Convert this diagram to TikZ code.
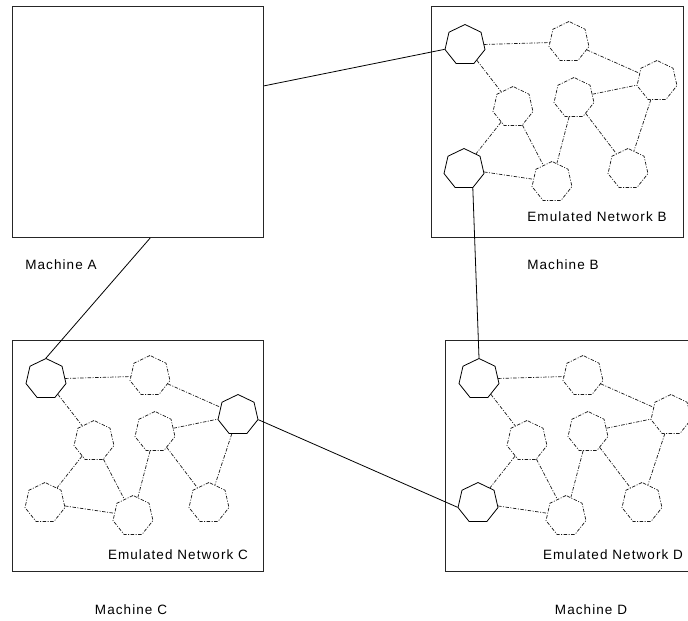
\documentclass[tikz,border=0pt]{standalone}
\usepackage{fontspec}
\setmainfont{Liberation Sans}[LetterSpace=8]
\usetikzlibrary{shapes.geometric}

% One emulated network: eight routers and their links.
% #1 = name prefix, #2..#9 = style of routers 1..8
\newcommand\emunet[9]{%
  \node[#2] (#1-1) at (34,39) {};
  \node[#3] (#1-2) at (138,36) {};
  \node[#4] (#1-3) at (226,75) {};
  \node[#5] (#1-4) at (82,101) {};
  \node[#6] (#1-5) at (143,92) {};
  \node[#7] (#1-6) at (33,163) {};
  \node[#8] (#1-7) at (121,176) {};
  \node[#9] (#1-8) at (197,163) {};
  \draw[link] (#1-1) -- (#1-2);
  \draw[link] (#1-1) -- (#1-4);
  \draw[link] (#1-2) -- (#1-3);
  \draw[link] (#1-5) -- (#1-3);
  \draw[link] (#1-3) -- (#1-8);
  \draw[link] (#1-5) -- (#1-8);
  \draw[link] (#1-5) -- (#1-7);
  \draw[link] (#1-4) -- (#1-6);
  \draw[link] (#1-4) -- (#1-7);
  \draw[link] (#1-6) -- (#1-7);
}

\begin{document}
\begin{tikzpicture}[x=1pt,y=-1pt,
  machine/.style={draw=black!85, line width=1pt, anchor=north west,
    inner sep=0pt, minimum width=#1, minimum height=231pt},
  hept/.style={regular polygon, regular polygon sides=7,
    minimum size=41pt, inner sep=0pt},
  real/.style={hept, draw=black, line width=0.8pt},
  sim/.style={hept, draw=black!90, line width=0.7pt,
    dash pattern=on 3.5pt off 1.5pt on 1pt off 1.5pt},
  link/.style={draw=black!90, line width=0.7pt,
    dash pattern=on 3.5pt off 1.5pt on 1pt off 1.5pt},
  wire/.style={draw=black, line width=0.8pt},
  lbl/.style={font=\fontsize{13.5}{16}\selectfont, inner sep=0pt}]

\useasboundingbox (0,0) rectangle (688,621);
\fill[white] (0,0) rectangle (688,621);
\clip (0,0) rectangle (688,621);

% machines
\node[machine=251pt] (A) at (12,6) {};
\node[machine=252pt] (B) at (431,6) {};
\node[machine=251pt] (C) at (12,340) {};
\node[machine=252pt] (D) at (445,340) {};

\node[lbl] (labA) at (61,265) {Machine A};
\node[lbl] (labB) at (563,265) {Machine B};
\node[lbl] (labC) at (131,610) {Machine C};
\node[lbl] (labD) at (591,610) {Machine D};

% emulated networks
\begin{scope}[shift={(431,6)}]
  \emunet{B}{real}{sim}{sim}{sim}{sim}{real}{sim}{sim}
  \node[lbl] (labEB) at (166,211) {Emulated Network B};
\end{scope}
\begin{scope}[shift={(12,340)}]
  \emunet{C}{real}{sim}{real}{sim}{sim}{sim}{sim}{sim}
  \node[lbl] (labEC) at (166,215) {Emulated Network C};
\end{scope}
\begin{scope}[shift={(445,340)}]
  \emunet{D}{real}{sim}{sim}{sim}{sim}{real}{sim}{sim}
  \node[lbl] (labED) at (168,215) {Emulated Network D};
\end{scope}

% physical links between machines
\draw[wire] (A.16.6) -- (B-1.192.9);
\draw[wire] (A.276.7) -- (C-1.90);
\draw[wire] (B-6.295.7) -- (D-1.90);
\draw[wire] (C-3.347.1) -- (D-6.192.9);

\end{tikzpicture}
\end{document}
